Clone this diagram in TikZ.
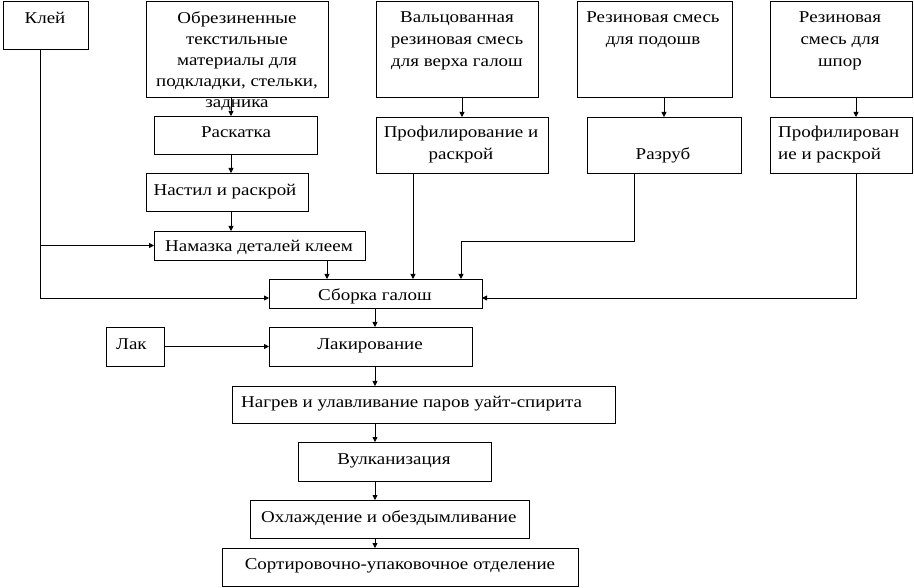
\documentclass[tikz,border=0pt]{standalone}
\usepackage{fontspec}
\setmainfont{Liberation Serif}[FakeStretch=1.15]
\usetikzlibrary{arrows.meta}
\begin{document}
\begin{tikzpicture}[x=1pt,y=-1pt,
  box/.style={draw, line width=0.8pt, inner sep=0pt, outer sep=0pt},
  lbl/.style={anchor=base, inner sep=0pt, font=\fontsize{16.5}{21}\selectfont},
  lbll/.style={lbl, anchor=base west},
  arr/.style={-{Triangle[length=5pt,width=5pt]}, line width=0.8pt},
  ln/.style={line width=0.8pt}]
\useasboundingbox (0,0) rectangle (914,588);
% boxes
\node[box, minimum width=85pt,  minimum height=48pt] (klei)   at (45.5,25) {};
\node[box, minimum width=182pt, minimum height=96pt] (obr)    at (237,49) {};
\node[box, minimum width=163pt, minimum height=38pt] (rask)   at (235.5,135) {};
\node[box, minimum width=162pt, minimum height=38pt] (nastil) at (227,192) {};
\node[box, minimum width=211pt, minimum height=29pt] (namaz)  at (259.5,245.5) {};
\node[box, minimum width=162pt, minimum height=96pt] (val)    at (457,49) {};
\node[box, minimum width=172pt, minimum height=56pt] (prof)   at (462,145) {};
\node[box, minimum width=155pt, minimum height=96pt] (podosh) at (654.5,49) {};
\node[box, minimum width=154pt, minimum height=56pt] (razrub) at (664,145) {};
\node[box, minimum width=142pt, minimum height=96pt] (shpor)  at (841,49) {};
\node[box, minimum width=142pt, minimum height=56pt] (profb)  at (841,145) {};
\node[box, minimum width=213pt, minimum height=29pt] (sborka) at (375.5,293.5) {};
\node[box, minimum width=58pt,  minimum height=39pt] (lak)    at (135,346.5) {};
\node[box, minimum width=203pt, minimum height=39pt] (lakir)  at (370.5,346.5) {};
\node[box, minimum width=383pt, minimum height=37pt] (nagrev) at (423.5,404.5) {};
\node[box, minimum width=193pt, minimum height=39pt] (vulk)   at (394.5,461.5) {};
\node[box, minimum width=279pt, minimum height=38pt] (ohl)    at (389.5,519) {};
\node[box, minimum width=356pt, minimum height=38pt] (sort)   at (400,567) {};
% helper columns / rows
\coordinate (k40) at (40,0);
\coordinate (c231) at (231,0);
\coordinate (c327) at (327,0);
\coordinate (c375) at (375,0);
\coordinate (c413) at (413,0);
\coordinate (c461) at (461,0);
\coordinate (c634) at (634,0);
\coordinate (c856) at (856,0);
\coordinate (r241) at (0,241);
\coordinate (r298) at (0,298);
% connectors
\draw[arr] (obr.south -| c231) -- (rask.north -| c231);
\draw[arr] (rask.south -| c231) -- (nastil.north -| c231);
\draw[arr] (nastil.south -| c231) -- (namaz.north -| c231);
\draw[arr] (klei.south -| k40) -- (k40 |- r298) -- (sborka.west |- r298);
\draw[arr] (k40 |- namaz.west) -- (namaz.west);
\draw[arr] (namaz.south -| c327) -- (sborka.north -| c327);
\draw[arr] (val.south -| prof.north) -- (prof.north);
\draw[arr] (prof.south -| c413) -- (sborka.north -| c413);
\draw[arr] (podosh.south -| razrub.north) -- (razrub.north);
\draw[arr] (razrub.south -| c634) -- (c634 |- r241) -- (c461 |- r241) -- (sborka.north -| c461);
\draw[arr] (shpor.south -| c856) -- (profb.north -| c856);
\draw[arr] (profb.south -| c856) -- (c856 |- r298) -- (sborka.east |- r298);
\draw[arr] (sborka.south -| c375) -- (lakir.north -| c375);
\draw[arr] (lak.east) -- (lakir.west);
\draw[arr] (lakir.south -| c375) -- (nagrev.north -| c375);
\draw[arr] (nagrev.south -| c375) -- (vulk.north -| c375);
\draw[arr] (vulk.south -| c375) -- (ohl.north -| c375);
\draw[arr] (ohl.south -| c375) -- (sort.north -| c375);
% texts
\node[lbl] (t1) at (45,24) {Клей};
\node[lbl] (t2a) at (237,24) {Обрезиненные};
\node[lbl] (t2b) at (237,45) {текстильные};
\node[lbl] (t2c) at (237,66) {материалы для};
\node[lbl] (t2d) at (237,87) {подкладки, стельки,};
\node[lbl] (t2e) at (237,108) {задника};
\node[lbl] (t3) at (236,138) {Раскатка};
\node[lbl] (t4) at (225,196) {Настил и раскрой};
\node[lbl] (t5) at (259,252) {Намазка деталей клеем};
\node[lbl] (t6a) at (457,23) {Вальцованная};
\node[lbl] (t6b) at (457,45) {резиновая смесь};
\node[lbl] (t6c) at (457,67) {для верха галош};
\node[lbl] (t7a) at (461,138) {Профилирование и};
\node[lbl] (t7b) at (461,160) {раскрой};
\node[lbl] (t8a) at (653,23) {Резиновая смесь};
\node[lbl] (t8b) at (653,45) {для подошв};
\node[lbl] (t9) at (663,160) {Разруб};
\node[lbl] (t10a) at (840,23) {Резиновая};
\node[lbl] (t10b) at (840,45) {смесь для};
\node[lbl] (t10c) at (840,67) {шпор};
\node[lbll] (t11a) at (778,138) {Профилирован};
\node[lbll] (t11b) at (778,160) {ие и раскрой};
\node[lbl] (t12) at (375,301) {Сборка галош};
\node[lbll] (t13) at (116,349) {Лак};
\node[lbl] (t14) at (370,349) {Лакирование};
\node[lbll] (t15) at (241,407) {Нагрев и улавливание паров уайт-спирита};
\node[lbl] (t16) at (394,464) {Вулканизация};
\node[lbll] (t17) at (261,522) {Охлаждение и обездымливание};
\node[lbl] (t18) at (400,569) {Сортировочно-упаковочное отделение};
\end{tikzpicture}
\end{document}
